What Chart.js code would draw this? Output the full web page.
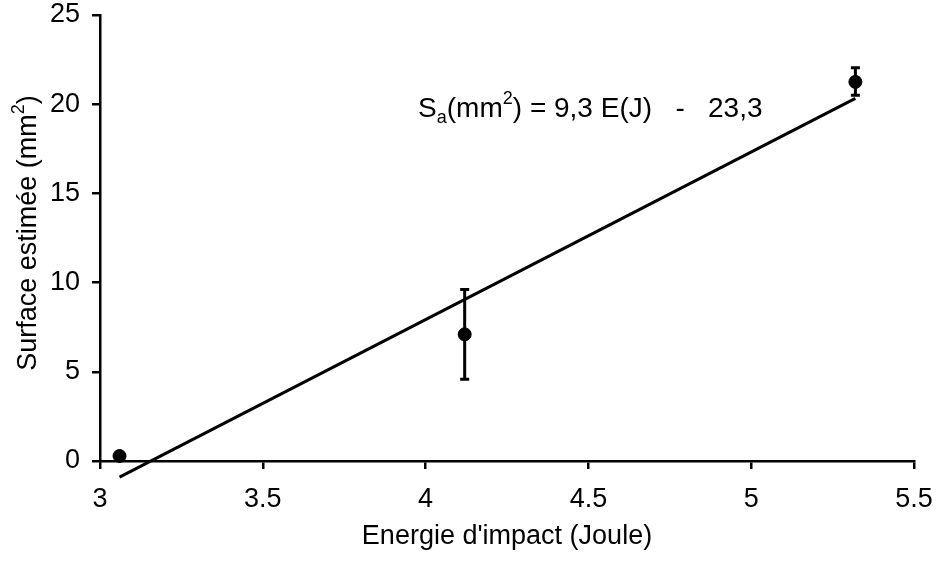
<!DOCTYPE html>
<html>
<head>
<meta charset="utf-8">
<script src="https://cdn.jsdelivr.net/npm/chart.js@4/dist/chart.umd.min.js"></script>
<style>
  html, body { margin: 0; padding: 0; background: #fff; }
  #wrap { width: 937px; height: 563px; }
</style>
</head>
<body>
<div id="wrap"><canvas id="c"></canvas></div>
<script>
// measured points
const energy = [3.06, 4.12, 5.32];
const surface = [0.28, 7.1, 21.25];
const errLow = [0.28, 4.58, 20.5];
const errHigh = [0.28, 9.62, 22.05];

// fitted line as drawn (end points)
const fitX = [3.06, 5.32];
const fitY = [-0.9, 20.33];

const xTicks = [3, 3.5, 4, 4.5, 5, 5.5];
const yTicks = [0, 5, 10, 15, 20, 25];

// equation label position (data units, text baseline)
const eqPos = { x: 3.977, y: 19.28 };

const font = "'Liberation Sans', Arial, sans-serif";
const fs = 27;

const errorBars = {
    id: 'errorBars',
    afterDatasetsDraw(chart) {
        const ctx = chart.ctx;
        const xs = chart.scales.x, ys = chart.scales.y;
        ctx.save();
        ctx.strokeStyle = '#000';
        ctx.lineWidth = 3;
        energy.forEach((e, i) => {
            if (errHigh[i] - errLow[i] < 0.01) return;
            const px = xs.getPixelForValue(e);
            const top = ys.getPixelForValue(errHigh[i]);
            const bot = ys.getPixelForValue(errLow[i]);
            ctx.beginPath();
            ctx.moveTo(px, top); ctx.lineTo(px, bot);
            ctx.moveTo(px - 4.5, top); ctx.lineTo(px + 4.5, top);
            ctx.moveTo(px - 4.5, bot); ctx.lineTo(px + 4.5, bot);
            ctx.stroke();
        });
        ctx.restore();
    }
};

// equation and y title drawn by hand for sub/superscripts
const texts = {
    id: 'texts',
    afterDraw(chart) {
        const ctx = chart.ctx;
        const eqBig = '28px ' + font, eqSmall = '18px ' + font;
        let x = chart.scales.x.getPixelForValue(eqPos.x);
        const y = chart.scales.y.getPixelForValue(eqPos.y);
        ctx.save();
        ctx.fillStyle = '#000';
        ctx.textBaseline = 'alphabetic';
        const put = (t, f, dy) => {
            ctx.font = f;
            ctx.fillText(t, x, y + dy);
            x += ctx.measureText(t).width;
        };
        put('S', eqBig, 0);
        put('a', eqSmall, 6);
        put('(mm', eqBig, 0);
        put('2', eqSmall, -13);
        put(') = 9,3 E(J)   -   23,3', eqBig, 0);
        ctx.restore();

        // y axis title
        const big = fs + 'px ' + font, small = '18px ' + font;
        const ca = chart.chartArea;
        const parts = [['Surface estimée (mm', big, 0], ['2', small, -12], [')', big, 0]];
        let w = 0;
        parts.forEach(p => { ctx.font = p[1]; w += ctx.measureText(p[0]).width; });
        ctx.save();
        ctx.translate(36, (ca.top + ca.bottom) / 2 - 5);
        ctx.rotate(-Math.PI / 2);
        ctx.fillStyle = '#000';
        ctx.textBaseline = 'alphabetic';
        let tx = -w / 2;
        parts.forEach(p => {
            ctx.font = p[1];
            ctx.fillText(p[0], tx, p[2]);
            tx += ctx.measureText(p[0]).width;
        });
        ctx.restore();
    }
};

new Chart(document.getElementById('c'), {
    type: 'scatter',
    data: {
        datasets: [{
            label: 'mesures',
            data: energy.map((e, i) => ({ x: e, y: surface[i] })),
            backgroundColor: '#000',
            borderColor: '#000',
            pointRadius: 6.5,
            pointHoverRadius: 6.5,
            clip: false,
            order: 0
        }, {
            label: 'régression',
            type: 'line',
            data: fitX.map((e, i) => ({ x: e, y: fitY[i] })),
            borderColor: '#000',
            borderWidth: 3,
            pointRadius: 0,
            fill: false,
            clip: false,
            order: 1
        }]
    },
    options: {
        responsive: true,
        maintainAspectRatio: false,
        animation: false,
        events: [],
        layout: { padding: { left: 0, right: 23, top: 15, bottom: 0 } },
        plugins: {
            legend: { display: false },
            tooltip: { enabled: false }
        },
        scales: {
            x: {
                type: 'linear',
                min: 3, max: 5.5,
                afterBuildTicks: s => { s.ticks = xTicks.map(v => ({ value: v })); },
                afterFit: s => { s.height = 102; s.paddingLeft = 0; s.paddingRight = 0; },
                border: { display: true, color: '#000', width: 2.5 },
                grid: { drawOnChartArea: false, drawTicks: true, tickLength: 8, color: '#000', lineWidth: 2.5 },
                ticks: {
                    color: '#000', font: { family: font, size: fs }, padding: 14, maxRotation: 0,
                    callback: v => String(v)
                },
                title: {
                    display: true,
                    text: "Energie d'impact (Joule)",
                    color: '#000',
                    font: { family: font, size: fs },
                    padding: { top: 4, bottom: 10 }
                }
            },
            y: {
                type: 'linear',
                min: 0, max: 25,
                afterBuildTicks: s => { s.ticks = yTicks.map(v => ({ value: v })); },
                afterFit: s => { s.width = 100; s.paddingTop = 0; s.paddingBottom = 0; },
                border: { display: true, color: '#000', width: 2.5 },
                grid: { drawOnChartArea: false, drawTicks: true, tickLength: 8, color: '#000', lineWidth: 2.5 },
                ticks: { color: '#000', font: { family: font, size: fs }, padding: 12 }
            }
        }
    },
    plugins: [errorBars, texts]
});
</script>
</body>
</html>
